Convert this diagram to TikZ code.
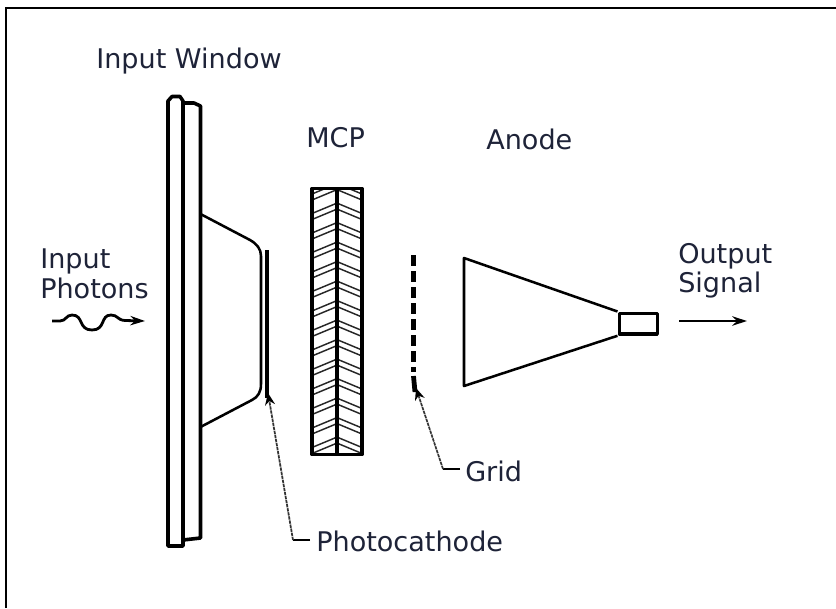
\documentclass[tikz,border=0pt]{standalone}
\usepackage{fontspec}
\setmainfont{DejaVu Sans}
\usetikzlibrary{arrows.meta}
\definecolor{ink}{HTML}{1E2338}
\tikzset{
  heavy/.style={draw=black,line width=2.7pt,line join=round},
  medium/.style={draw=black,line width=1.9pt,line join=round},
  leader/.style={draw=black!80,line width=1.3pt,dash pattern=on 2.5pt off 0.6pt},
  hatch/.style={draw=black!85,line width=1.1pt},
  lbl/.style={inner sep=0pt,text=ink,font=\fontsize{20.3pt}{22pt}\selectfont,anchor=base west},
  tip/.style={-{Stealth[length=11pt,width=7pt]}},
  smalltip/.style={-{Stealth[length=9pt,width=7.5pt,color=black,fill=black]}}
}
\begin{document}
\begin{tikzpicture}[x=0.75pt,y=-0.75pt]
\useasboundingbox (0,0) rectangle (836,608);
\fill[white] (0,0) rectangle (836,608);
\draw[black,line width=1.8pt] (6,608) -- (6,8) -- (836,8);
% window
\draw[heavy] (168,101) -- (172,96.5) -- (180,96.5) -- (183,101) -- (183,546) -- (168,546) -- cycle;
\draw[heavy] (183,103) -- (194,103) -- (200.5,106) -- (200.5,538) -- (183,540);
\draw[medium] (200.5,214) -- (250,240) .. controls (257,244) and (261,249) .. (261,256) -- (261,384) .. controls (261,392) and (258,397) .. (252,400) -- (200.5,427);
\draw[heavy] (267,250) -- (267,398);
% MCP
\begin{scope}
\clip (312,188.5) rectangle (362,454.5);
\foreach \k in {0,...,13}{
 \foreach \d in {0,6}{
  \pgfmathsetmacro{\yy}{194+19.5*\k+\d}
  \draw[hatch] (312,\yy) -- (336,\yy-10);
  \draw[hatch] (338,\yy-10) -- (362,\yy);
 }
}
\end{scope}
\draw[heavy] (312,188.5) rectangle (362,454.5);
\draw[heavy] (337,188.5) -- (337,454.5);
% grid
\draw[draw=black,line width=3.6pt,dash pattern=on 8pt off 4pt] (413.5,255) -- (413.5,372);
\draw[draw=black,line width=3.6pt] (413.5,376) -- (415,392);
% anode
\node[heavy,draw,minimum width=28.5pt,minimum height=15.5pt,inner sep=0pt,anchor=north west] (box) at (617.5,311.5) {};
\draw[medium] (box.north west) -- (464,258) -- (464,386) -- (box.south west);
% labels
\node[lbl] (win) at (96,68) {Input Window};
\node[lbl] (mcp) at (306,147) {MCP};
\node[lbl] (an) at (486,149) {Anode};
\node[lbl] (in) at (40,268) {Input};
\node[lbl] (pho) at (40,298) {Photons};
\node[lbl] (out) at (678,263) {Output};
\node[lbl] (sig) at (678,292) {Signal};
\node[lbl] (ph) at (316,551) {Photocathode};
\node[lbl] (gr) at (465,481) {Grid};
% arrows
\coordinate (outa) at (679,321);
\coordinate (outb) at (747,321);
\draw[medium,tip] (outa) -- (outb);
\coordinate (phb) at (293,540);
\coordinate (grb) at (443,469);
\coordinate (pht) at (268,393);
\coordinate (grt) at (416,388);
\draw[medium] (310,540) -- (phb);
\draw[leader,smalltip] (phb) -- (pht);
\draw[medium] (460,469) -- (grb);
\draw[leader,smalltip] (grb) -- (grt);
\coordinate (wa) at (52,321);
\coordinate (wb) at (145,321);
\draw[draw=black,line width=2.1pt,tip] (wa) -- (60,321) .. controls (66,321) and (66,315) .. (72,315) .. controls (84,315) and (78,330) .. (92,330) .. controls (106,330) and (100,315) .. (111,315) .. controls (118,315) and (117,320) .. (125,320.5) -- (wb);
\end{tikzpicture}
\end{document}
